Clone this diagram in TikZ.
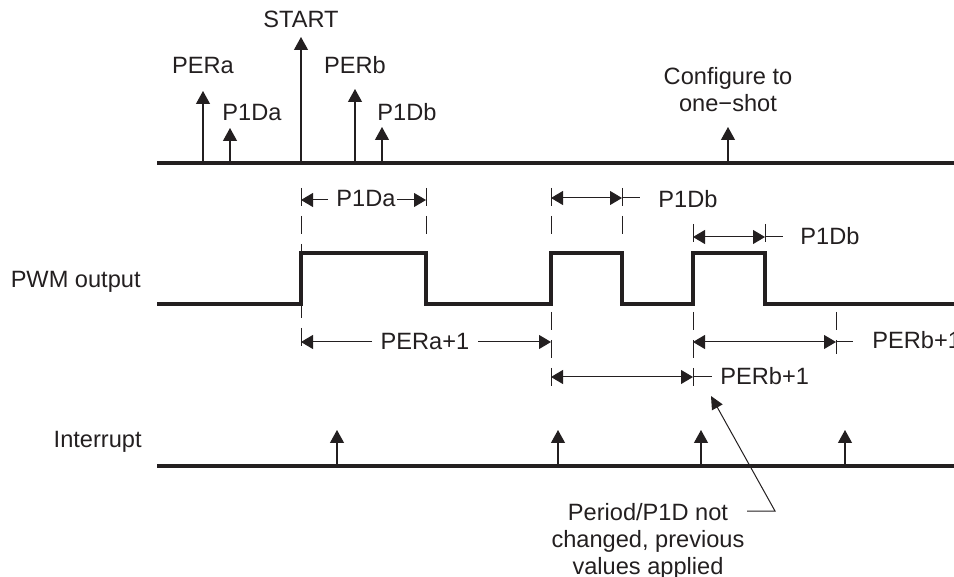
\documentclass[tikz,border=0pt]{standalone}
\usepackage{fontspec}
\setmainfont{Liberation Sans}
\usetikzlibrary{arrows.meta}
\definecolor{ink}{HTML}{231F20}
\begin{document}
\begin{tikzpicture}[x=0.5pt,y=-0.5pt,
  txt/.style={font=\fontsize{11.8}{13.5}\selectfont, text=ink, inner sep=0pt},
  axis/.style={line width=2pt, draw=ink},
  wave/.style={line width=1.6pt, draw=ink, line join=miter},
  tick/.style={line width=0.6pt, draw=ink, -{Triangle[length=6.5pt,width=7pt]}},
  dimboth/.style={line width=0.5pt, draw=ink, {Triangle[length=6pt,width=7pt]}-{Triangle[length=6pt,width=7pt]}},
  dimone/.style={line width=0.5pt, draw=ink, -{Triangle[length=6pt,width=7pt]}},
  ext/.style={line width=0.5pt, draw=ink},
  guide/.style={line width=0.5pt, draw=ink, dash pattern=on 9pt off 5pt},
  leader/.style={line width=0.5pt, draw=ink, -{Triangle[length=6.5pt,width=6pt]}},
]
\useasboundingbox (0,0) rectangle (954,577);
\clip (0,0) rectangle (954,577);

% ---------- top timeline ----------
\coordinate (tl0) at (157,163);
\coordinate (tl1) at (954,163);
\draw[axis] (tl0) -- (tl1);

\coordinate (peraB) at (203,163);  \coordinate (peraT) at (203,91);
\coordinate (p1daB) at (230,163);  \coordinate (p1daT) at (230,128);
\coordinate (startB) at (301,163); \coordinate (startT) at (301,37);
\coordinate (perbB) at (355,163);  \coordinate (perbT) at (355,89);
\coordinate (p1dbB) at (382,163);  \coordinate (p1dbT) at (382,127);
\coordinate (confB) at (728,163);  \coordinate (confT) at (728,127);
\draw[tick] (peraB) -- (peraT);
\draw[tick] (p1daB) -- (p1daT);
\draw[tick] (startB) -- (startT);
\draw[tick] (perbB) -- (perbT);
\draw[tick] (p1dbB) -- (p1dbT);
\draw[tick] (confB) -- (confT);

\node[txt, anchor=base] (lstart) at (301,28) {START};
\node[txt, anchor=base] (lpera) at (203,74) {PERa};
\node[txt, anchor=base] (lp1da) at (252,121) {P1Da};
\node[txt, anchor=base] (lperb) at (355,74) {PERb};
\node[txt, anchor=base] (lp1db) at (407,121) {P1Db};
\node[txt, anchor=north, align=center] (lconf) at (728,67) {Configure to\\one−shot};

% ---------- PWM output ----------
\node[txt, anchor=base east] (lpwm) at (141,288) {PWM output};
\draw[wave] (157,304) -- (301,304) -- (301,253) -- (426,253) -- (426,304)
  -- (551,304) -- (551,253) -- (622,253) -- (622,304)
  -- (693,304) -- (693,253) -- (765,253) -- (765,304) -- (954,304);

% guides
\draw[guide] (301,188) -- (301,352);
\draw[guide] (426,188) -- (426,242);
\draw[guide] (551,188) -- (551,242);
\draw[guide] (551,312) -- (551,390);
\draw[guide] (622,188) -- (622,242);
\draw[guide] (693,224) -- (693,242);
\draw[guide] (693,312) -- (693,390);
\draw[guide] (765,224) -- (765,242);
\draw[guide] (836,312) -- (836,354);

% P1Da
\node[txt, anchor=base] (dp1da) at (366,207) {P1Da};
\coordinate (a1) at (328,200); \coordinate (a2) at (301,200);
\coordinate (a3) at (397,200); \coordinate (a4) at (426,200);
\draw[dimone] (a1) -- (a2);
\draw[dimone] (a3) -- (a4);

% P1Db first
\node[txt, anchor=base west] (dp1db1) at (658,208) {P1Db};
\coordinate (b1) at (551,198); \coordinate (b2) at (622,198); \coordinate (b3) at (640,198);
\draw[dimboth] (b1) -- (b2);
\draw[ext] (b2) -- (b3);

% P1Db second
\node[txt, anchor=base west] (dp1db2) at (800,245) {P1Db};
\coordinate (c1) at (693,237); \coordinate (c2) at (765,237); \coordinate (c3) at (783,237);
\draw[dimboth] (c1) -- (c2);
\draw[ext] (c2) -- (c3);

% PERa+1
\node[txt, anchor=base] (dpera) at (425,350) {PERa+1};
\coordinate (d1) at (372,342); \coordinate (d2) at (301,342);
\coordinate (d3) at (478,342); \coordinate (d4) at (551,342);
\draw[dimone] (d1) -- (d2);
\draw[dimone] (d3) -- (d4);

% PERb+1 upper (cut at the right edge, as in the reference)
\node[txt, anchor=base west] (dperb1) at (872,349) {PERb+1};
\coordinate (e1) at (693,342); \coordinate (e2) at (836,342); \coordinate (e3) at (853,342);
\draw[dimboth] (e1) -- (e2);
\draw[ext] (e2) -- (e3);

% PERb+1 lower
\node[txt, anchor=base west] (dperb2) at (720,385) {PERb+1};
\coordinate (f1) at (551,377); \coordinate (f2) at (693,377); \coordinate (f3) at (712,377);
\draw[dimboth] (f1) -- (f2);
\draw[ext] (f2) -- (f3);

% ---------- Interrupt ----------
\node[txt, anchor=base east] (lint) at (142,447) {Interrupt};
\coordinate (il0) at (157,466);
\coordinate (il1) at (954,466);
\draw[axis] (il0) -- (il1);
\coordinate (i1B) at (337,466); \coordinate (i1T) at (337,430);
\coordinate (i2B) at (558,466); \coordinate (i2T) at (558,430);
\coordinate (i3B) at (701,466); \coordinate (i3T) at (701,430);
\coordinate (i4B) at (845,466); \coordinate (i4T) at (845,430);
\draw[tick] (i1B) -- (i1T);
\draw[tick] (i2B) -- (i2T);
\draw[tick] (i3B) -- (i3T);
\draw[tick] (i4B) -- (i4T);

% note
\node[txt, anchor=north, align=center] (note) at (648,503) {Period/P1D not\\changed, previous\\values applied};
\coordinate (n0) at (747,511);
\coordinate (n1) at (775,511);
\coordinate (n2) at (711,396);
\draw[leader] (n0) -- (n1) -- (n2);
\end{tikzpicture}
\end{document}
